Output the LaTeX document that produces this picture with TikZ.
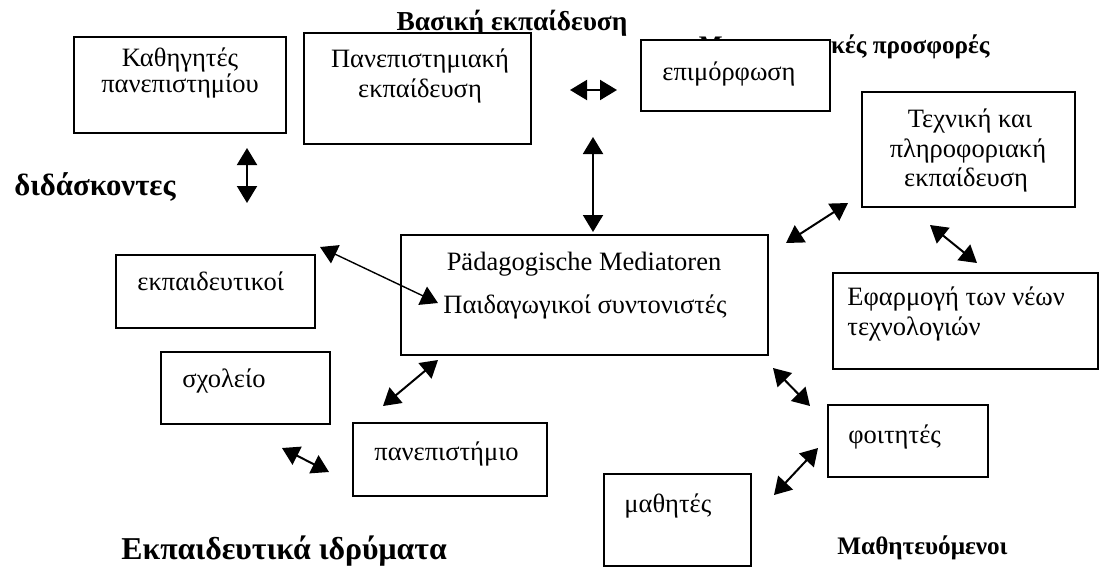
\documentclass[tikz,border=0pt]{standalone}
\usepackage{fontspec}
\setmainfont{Liberation Serif}
\usetikzlibrary{arrows.meta,fit}
\begin{document}
\begin{tikzpicture}[x=0.5pt,y=-0.5pt,
  box/.style={draw, line width=1pt, fill=white, inner sep=0pt},
  boxtext/.style={font=\fontsize{13.25}{15}\selectfont, inner sep=0pt},
  lbl/.style={font=\bfseries\fontsize{12.6}{14}\selectfont, inner sep=0pt},
  biglbl/.style={font=\bfseries\fontsize{15.7}{17}\selectfont, inner sep=0pt},
  link/.style={line width=1pt, {Triangle[length=8.5pt,width=10pt]}-{Triangle[length=8.5pt,width=10pt]}},
  thinlink/.style={link, line width=0.7pt},
]
\useasboundingbox (0,0) rectangle (1101,568);

% group labels
\node[lbl, font=\bfseries\fontsize{13.7}{15}\selectfont, anchor=base] (basiki) at (512,30) {Βασική εκπαίδευση};
\node[lbl, anchor=base east] (metapt) at (990,53) {Μεταπτυχιακές προσφορές};
\node[biglbl, font=\bfseries\fontsize{15.4}{17}\selectfont, anchor=base west] (didask) at (14,195) {διδάσκοντες};
\node[biglbl, font=\bfseries\fontsize{15.9}{17}\selectfont, anchor=base west] (ekpidr) at (121,559) {Εκπαιδευτικά ιδρύματα};
\node[lbl, anchor=base west] (mathev) at (837,554) {Μαθητευόμενοι};

% boxes
\node[box, fit={(74,37) (286,133)}] (kath) {};
\node[box, fit={(304,33) (531,144)}] (panekp) {};
\node[box, fit={(641,40) (830,111)}] (epim) {};
\node[box, fit={(862,92) (1075,207)}] (tech) {};
\node[box, fit={(833,273) (1098,369)}] (efarm) {};
\node[box, fit={(401,235) (768,355)}] (med) {};
\node[box, fit={(116,255) (315,328)}] (ekpaid) {};
\node[box, fit={(161,352) (330,424)}] (sxol) {};
\node[box, fit={(353,423) (547,496)}] (panep) {};
\node[box, fit={(828,405) (988,477)}] (foit) {};
\node[box, fit={(604,474) (751,566)}] (math) {};

% box texts
\node[boxtext, anchor=base] (kathA) at (180,66) {Καθηγητές};
\node[boxtext, anchor=base] (kathB) at (180,92) {πανεπιστημίου};
\node[boxtext, anchor=base] (panekpA) at (420,67) {Πανεπιστημιακή};
\node[boxtext, anchor=base] (panekpB) at (420,97) {εκπαίδευση};
\node[boxtext, anchor=base west] (epimA) at (662,80) {επιμόρφωση};
\node[boxtext, anchor=base] (techA) at (970,127) {Τεχνική και};
\node[boxtext, anchor=base] (techB) at (968,157) {πληροφοριακή};
\node[boxtext, anchor=base] (techC) at (966,186) {εκπαίδευση};
\node[boxtext, anchor=base west] (efarmA) at (847,305) {Εφαρμογή των νέων};
\node[boxtext, anchor=base west] (efarmB) at (847,335) {τεχνολογιών};
\node[boxtext, anchor=base] (medA) at (584,270) {Pädagogische Mediatoren};
\node[boxtext, anchor=base] (medB) at (585,313) {Παιδαγωγικοί συντονιστές};
\node[boxtext, anchor=base west] (ekpaidA) at (137,290) {εκπαιδευτικοί};
\node[boxtext, anchor=base west] (sxolA) at (182,387) {σχολείο};
\node[boxtext, anchor=base west] (panepA) at (374,460) {πανεπιστήμιο};
\node[boxtext, anchor=base west] (foitA) at (848,443) {φοιτητές};
\node[boxtext, anchor=base west] (mathA) at (624,512) {μαθητές};

% arrow end points
\coordinate (a1) at (247,148); \coordinate (a2) at (247,203);
\coordinate (b1) at (570,90);  \coordinate (b2) at (617,90);
\coordinate (c1) at (593,137); \coordinate (c2) at (593,232);
\coordinate (d1) at (786,243); \coordinate (d2) at (848,203);
\coordinate (e1) at (930,225); \coordinate (e2) at (977,263);
\coordinate (f1) at (320,247); \coordinate (f2) at (438,303);
\coordinate (g1) at (438,360); \coordinate (g2) at (383,406);
\coordinate (h1) at (282,448); \coordinate (h2) at (329,472);
\coordinate (i1) at (773,368); \coordinate (i2) at (810,406);
\coordinate (j1) at (818,448); \coordinate (j2) at (774,495);

\draw[link] (a1) -- (a2);
\draw[link] (b1) -- (b2);
\draw[link] (c1) -- (c2);
\draw[link] (d1) -- (d2);
\draw[link] (e1) -- (e2);
\draw[thinlink] (f1) -- (f2);
\draw[link] (g1) -- (g2);
\draw[link] (h1) -- (h2);
\draw[link] (i1) -- (i2);
\draw[link] (j1) -- (j2);
\end{tikzpicture}
\end{document}
